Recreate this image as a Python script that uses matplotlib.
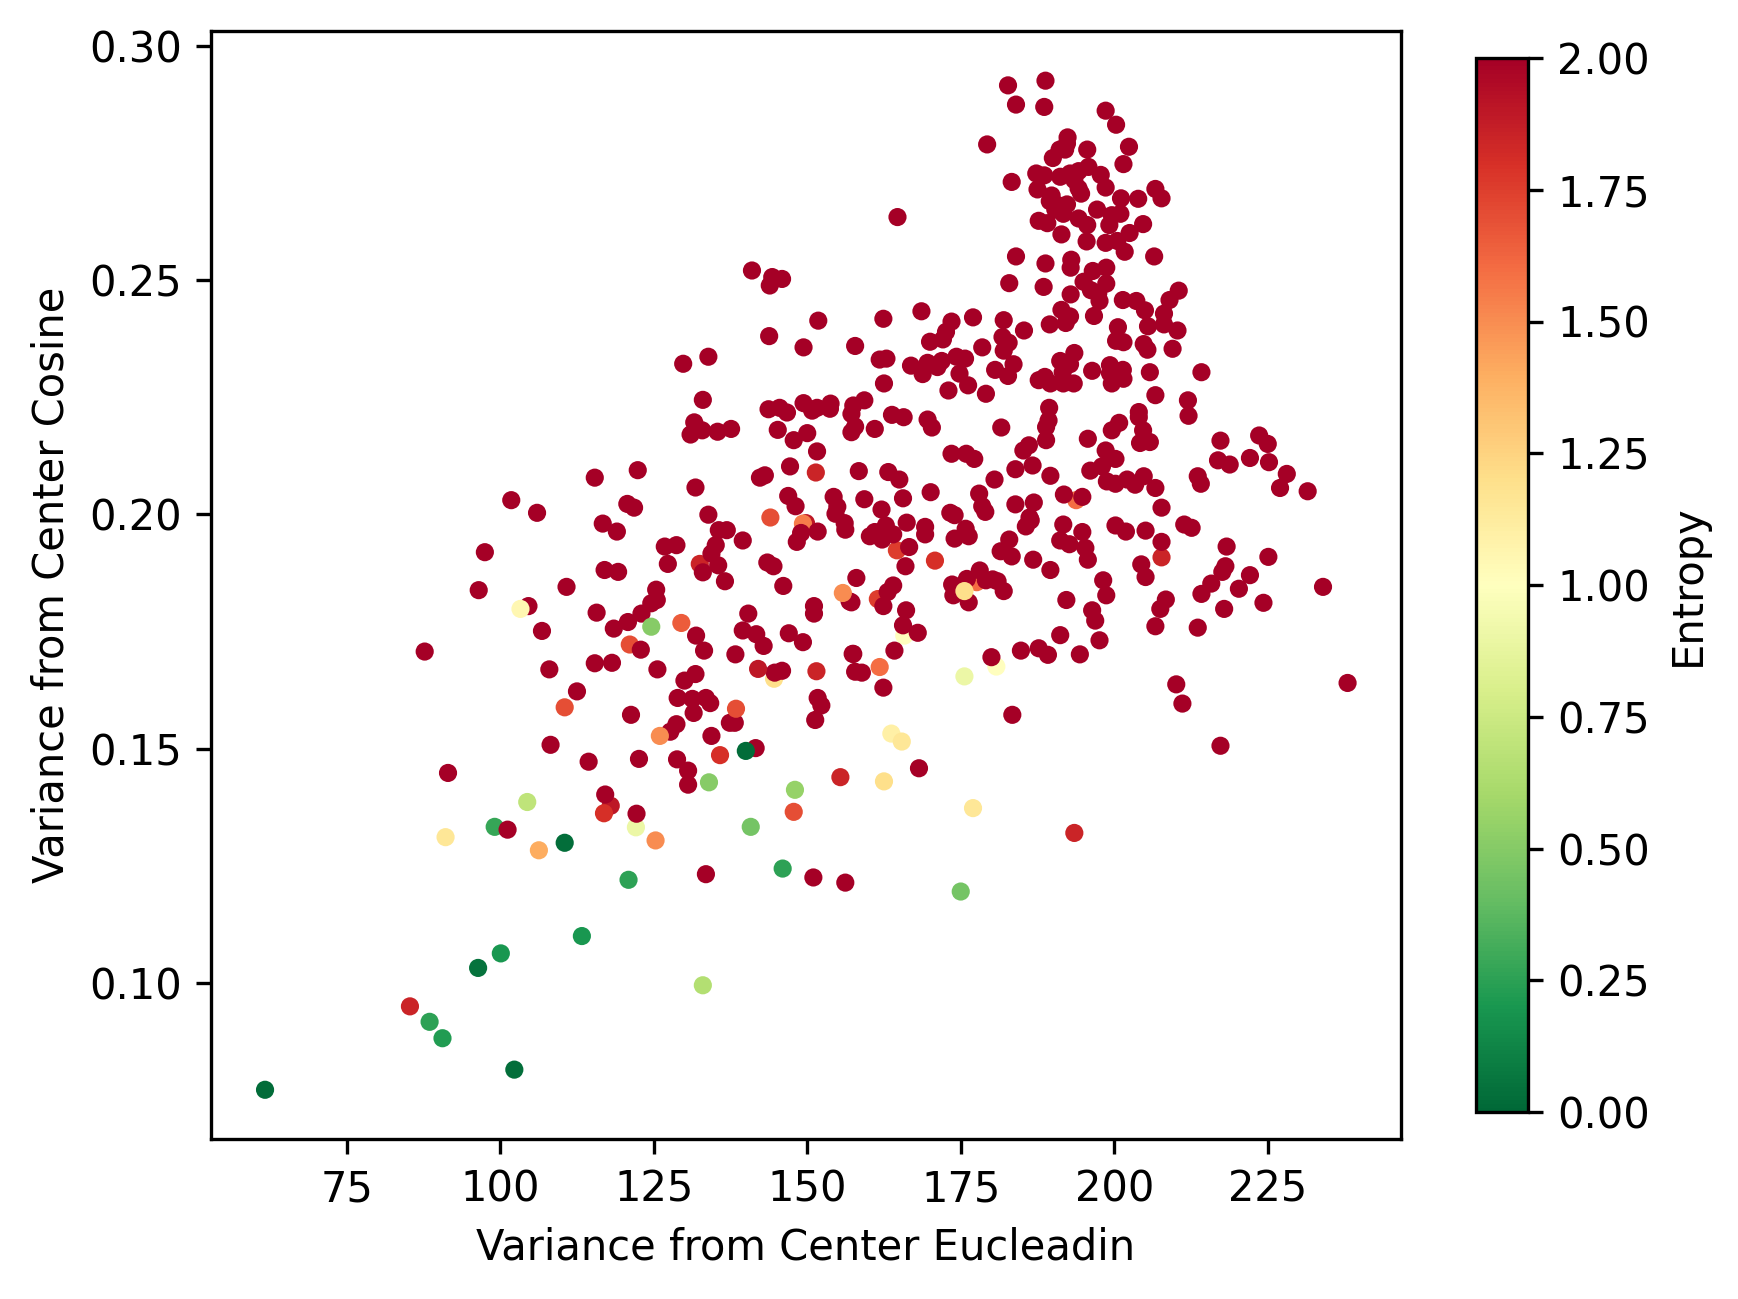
#!/usr/bin/env python3
# -*- coding: utf-8 -*-

"""Scatter of variance from center, coloured by entropy"""

import matplotlib
matplotlib.use('Agg')
import matplotlib.pyplot as plt

# points that sit underneath the dark red ones
under_x = [193.8, 164.6, 177.6, 161.5, 165.8, 180.8, 207.7, 121.1, 144.6, 122.1, 99.1, 118.0, 116.9, 132.5, 149.8, 149.3]
under_y = [.2030, .1923, .1855, .1819, .1741, .1675, .1908, .1722, .1649, .1332, .1333, .1378, .1362, .1894, .1981, .1980]
under_entropy = [1.6, 1.75, 1.6, 1.75, 1.0, 1.0, 1.85, 1.7, 1.2, 0.9, 0.28, 1.9, 1.8, 1.85, 1.9, 1.55]

# the high entropy cloud
red_x = [
    182.7, 188.8, 184.0, 188.6, 198.6, 200.3, 202.4, 201.5, 179.3, 192.4, 192.3, 191.1, 192.0, 190.0, 195.6,
    195.8, 194.2, 192.8, 191.2, 187.3, 188.6, 197.8, 198.6, 193.5, 194.2, 194.6, 183.3, 187.5, 189.8, 189.5,
    192.3, 190.9, 190.4, 191.7, 201.1, 203.9, 206.7, 207.7, 197.2, 201.0, 199.6, 199.2, 164.7, 187.7, 189.1,
    194.2, 195.6, 204.7, 191.4, 202.5, 195.5, 198.6, 200.5, 201.7, 206.5, 184.0, 188.8, 193.0, 192.9, 198.7,
    196.5, 195.0, 198.7, 182.9, 188.5, 196.2, 197.4, 192.9, 197.6, 210.5, 209.0, 201.4, 203.6, 205.0, 208.1,
    191.4, 192.8, 196.7, 192.1, 189.5, 200.6, 208.1, 205.5, 210.3, 182.0, 185.3, 177.0, 168.6, 173.5, 162.4,
    172.6, 172.1, 170.0, 181.8, 182.8, 182.0, 178.5, 200.3, 201.5, 204.8, 205.4, 209.5, 193.5, 191.2, 192.8,
    196.4, 199.3, 201.4, 199.3, 201.5, 199.6, 205.8, 214.2, 157.8, 161.8, 162.9, 162.5, 166.9, 169.6, 168.8,
    171.2, 171.9, 174.3, 175.7, 174.8, 176.2, 173.0, 179.1, 180.6, 183.6, 182.7, 187.7, 188.7, 189.6, 191.6,
    191.7, 193.4, 206.7,
    212.0, 212.1, 159.3, 157.5, 157.2, 163.8, 165.7, 169.6, 170.3, 161.0, 157.8, 157.2, 181.6, 189.4, 189.3,
    188.9, 188.9, 204.0, 204.0, 200.8, 199.6, 204.7, 204.2, 205.8, 195.7, 217.3, 223.6, 225.0, 198.6, 200.2,
    186.1, 185.2, 186.7, 183.9, 173.5, 175.9, 177.2, 158.4, 163.2, 165.0, 189.6, 180.5, 198.0, 196.1, 216.9,
    218.8, 222.1, 225.2, 228.1, 213.6, 214.1, 198.8, 200.2, 202.1, 203.4, 204.8, 206.7, 227.0, 231.5, 191.8,
    194.8, 170.1, 178.0, 159.3, 165.6, 178.5, 179.0, 183.9, 186.9, 207.7, 162.1, 173.3, 174.0, 186.2, 186.4,
    185.6, 191.7, 200.2, 201.9, 205.1, 211.4, 212.6, 166.2, 169.2, 169.2, 175.8, 176.3, 174.0, 162.8, 161.0,
    160.2, 162.2, 164.0, 194.8, 182.9, 191.2, 192.7, 195.3, 207.7, 181.5, 183.3, 218.3, 166.6, 186.8, 195.7,
    225.1, 204.4, 166.0, 189.6, 205.1, 218.1, 217.6, 222.1, 215.8, 214.2, 220.3, 234.0, 198.2, 198.7, 192.2,
    196.4, 196.9, 208.4, 207.5, 217.9, 224.3, 206.7, 213.6, 191.2, 197.6, 187.7, 189.2, 184.8, 194.4, 180.0,
    210.1, 211.1, 238.0, 217.3, 183.4, 168.2, 173.6, 176.0, 178.1, 179.1, 180.2, 181.0, 182.0, 173.8, 176.3,
    158.0, 164.0, 163.1, 162.4, 157.2, 166.1, 165.6, 168.0, 164.2, 157.5, 157.8, 158.9, 162.4,
    141.0, 144.3, 145.9, 143.9, 151.8, 143.8, 149.4, 133.9, 129.8, 133.0, 143.7, 145.5, 146.7, 149.4, 151.6,
    150.8, 153.8, 153.7, 131.6, 132.9, 131.0, 135.4, 137.6, 145.2, 150.0, 147.8, 151.6, 147.2, 143.1, 142.3,
    115.4, 122.4, 131.8, 146.9, 148.1, 154.3, 101.8, 106.0, 120.7, 121.8, 116.7, 119.0, 133.9, 154.9, 154.6,
    156.1, 156.2, 149.0, 151.7, 148.3, 135.6, 136.9, 139.5, 126.8, 128.7, 135.1, 134.4, 97.5, 135.5, 133.0,
    127.3, 143.5, 144.5, 136.6, 146.1, 117.0, 119.2, 96.5, 110.8, 125.4, 125.5, 124.6, 123.0, 115.7, 120.8,
    118.5, 106.8, 104.6, 131.9, 140.4, 139.5, 141.7, 147.0, 149.3, 151.1, 151.1, 156.9,
    87.7, 122.9, 133.2, 142.9, 108.0, 115.4, 118.2, 125.6, 131.8, 130.0, 138.3, 144.7, 145.9, 157.4, 112.5,
    128.9, 131.3, 133.5, 134.2, 131.5, 121.3, 151.7, 152.3, 151.3, 128.7, 127.7, 137.4, 138.2, 134.4, 108.2,
    114.4, 122.6, 128.8, 130.6, 130.6, 141.6, 91.5, 117.1, 122.2, 101.2, 133.5, 151.0, 156.2,
]
red_y = [
    .2915, .2925, .2874, .2869, .2861, .2831, .2784, .2747, .2789, .2804, .2791, .2778, .2778, .2760, .2778,
    .2741, .2732, .2727, .2720, .2727, .2723, .2724, .2697, .2713, .2695, .2684, .2709, .2693, .2680, .2668,
    .2661, .2659, .2650, .2641, .2674, .2673, .2694, .2674, .2650, .2641, .2638, .2617, .2634, .2626, .2621,
    .2631, .2617, .2619, .2597, .2600, .2582, .2579, .2583, .2560, .2550, .2550, .2535, .2543, .2526, .2526,
    .2519, .2496, .2492, .2493, .2485, .2478, .2472, .2469, .2455, .2477, .2457, .2457, .2455, .2435, .2428,
    .2436, .2422, .2423, .2408, .2405, .2399, .2405, .2401, .2392, .2414, .2392, .2420, .2433, .2411, .2417,
    .2389, .2373, .2368, .2378, .2366, .2349, .2356, .2370, .2367, .2363, .2351, .2353, .2344, .2327, .2320,
    .2306, .2318, .2308, .2301, .2289, .2279, .2303, .2303, .2359, .2330, .2332, .2279, .2317, .2323, .2299,
    .2314, .2327, .2336, .2332, .2300, .2275, .2264, .2257, .2308, .2320, .2295, .2286, .2293, .2279, .2303,
    .2279, .2279, .2254,
    .2243, .2210, .2243, .2232, .2214, .2212, .2207, .2202, .2185, .2182, .2187, .2175, .2185, .2227, .2200,
    .2186, .2158, .2218, .2207, .2195, .2179, .2179, .2152, .2154, .2161, .2157, .2168, .2150, .2136, .2118,
    .2147, .2136, .2104, .2096, .2129, .2129, .2118, .2092, .2090, .2074, .2082, .2074, .2102, .2093, .2115,
    .2106, .2120, .2111, .2086, .2081, .2065, .2070, .2065, .2074, .2063, .2081, .2056, .2056, .2049, .2042,
    .2037, .2047, .2044, .2032, .2034, .2017, .2005, .2021, .2025, .2014, .2010, .2003, .1998, .1993, .1987,
    .1974, .1978, .1976, .1963, .1965, .1978, .1971, .1982, .1973, .1957, .1969, .1953, .1948, .1976, .1962,
    .1953, .1946, .1957, .1962, .1946, .1944, .1936, .1928, .1941, .1921, .1910, .1931, .1930, .1903, .1903,
    .1909, .1893, .1889, .1881, .1866, .1889, .1877, .1870, .1852, .1830, .1841, .1845, .1859, .1827, .1817,
    .1795, .1773, .1818, .1798, .1798, .1811, .1761, .1758, .1742, .1731, .1714, .1700, .1709, .1701, .1695,
    .1637, .1596, .1640, .1506, .1572, .1458, .1850, .1862, .1880, .1859, .1861, .1857, .1836, .1827, .1812,
    .1864, .1848, .1834, .1804, .1812, .1795, .1763, .1747, .1709, .1702, .1664, .1662, .1630,
    .2520, .2506, .2502, .2488, .2413, .2380, .2356, .2336, .2321, .2244, .2224, .2227, .2217, .2237, .2227,
    .2221, .2236, .2225, .2196, .2179, .2170, .2176, .2182, .2180, .2173, .2158, .2134, .2102, .2083, .2078,
    .2078, .2094, .2057, .2039, .2017, .2037, .2030, .2003, .2022, .2014, .1980, .1963, .1999, .2016, .2001,
    .1981, .1967, .1960, .1963, .1941, .1966, .1966, .1944, .1931, .1934, .1934, .1916, .1919, .1891, .1876,
    .1894, .1897, .1889, .1857, .1847, .1881, .1877, .1838, .1845, .1839, .1817, .1810, .1788, .1790, .1770,
    .1756, .1751, .1804, .1741, .1788, .1752, .1744, .1746, .1727, .1804, .1788, .1814,
    .1707, .1711, .1709, .1719, .1669, .1682, .1683, .1669, .1659, .1645, .1701, .1662, .1666, .1702, .1622,
    .1608, .1606, .1608, .1597, .1576, .1572, .1608, .1592, .1561, .1552, .1536, .1555, .1555, .1527, .1508,
    .1472, .1478, .1477, .1453, .1423, .1501, .1448, .1402, .1361, .1327, .1232, .1225, .1214,
]
red_entropy = 2.0

# low entropy points and the ones drawn on top
top_x = [61.7, 85.3, 88.5, 90.6, 91.1, 96.4, 100.1, 102.3, 104.4, 103.3, 106.3, 110.5, 113.3, 120.9, 125.3,
         124.6, 126.0, 110.5, 129.5, 133.0, 134.0, 135.8, 138.4, 140.0, 140.8, 146.0, 148.0, 147.8, 155.4, 162.5,
         163.7, 165.4, 175.0, 177.0, 175.6, 175.6, 193.5, 170.8, 155.8, 161.8, 144.0, 151.4, 151.5, 142.0]
top_y = [.0772, .0950, .0917, .0882, .1311, .1032, .1063, .0815, .1386, .1798, .1283, .1299, .1100, .1220, .1304,
         .1760, .1527, .1588, .1768, .0995, .1428, .1486, .1585, .1495, .1333, .1244, .1412, .1365, .1439, .1430,
         .1532, .1515, .1195, .1373, .1654, .1836, .1320, .1901, .1832, .1674, .1993, .2089, .1665, .1670]
top_entropy = [0.02, 1.85, 0.25, 0.22, 1.15, 0.05, 0.2, 0.03, 0.7, 1.05, 1.4, 0.03, 0.2, 0.25, 1.5,
               0.5, 1.5, 1.7, 1.65, 0.65, 0.5, 1.8, 1.7, 0.02, 0.45, 0.25, 0.55, 1.7, 1.85, 1.2,
               1.1, 1.15, 0.45, 1.15, 0.9, 1.2, 1.85, 1.8, 1.5, 1.6, 1.7, 1.85, 1.85, 1.9]

FIG_W, FIG_H = 1738, 1299
POINT_SIZE = 19


def main():
    fig = plt.figure(figsize=(FIG_W / 300, FIG_H / 300), dpi=300)
    ax = fig.add_axes([211 / FIG_W, 1 - 1139 / FIG_H, 1190 / FIG_W, 1108 / FIG_H])
    cax = fig.add_axes([1476 / FIG_W, 1 - 1112 / FIG_H, 52 / FIG_W, 1054 / FIG_H])

    opts = dict(cmap='RdYlGn_r', vmin=0, vmax=2, s=POINT_SIZE, linewidths=0)
    ax.scatter(under_x, under_y, c=under_entropy, **opts)
    ax.scatter(red_x, red_y, c=[red_entropy] * len(red_x), **opts)
    sc = ax.scatter(top_x, top_y, c=top_entropy, **opts)

    ax.set_xlim(52.9, 246.7)
    ax.set_ylim(0.0667, 0.3031)
    ax.set_xlabel('Variance from Center Eucleadin')
    ax.set_ylabel('Variance from Center Cosine')

    fig.colorbar(sc, cax=cax, label='Entropy')
    fig.savefig('out.png', dpi=300)


if __name__ == '__main__':
    main()
